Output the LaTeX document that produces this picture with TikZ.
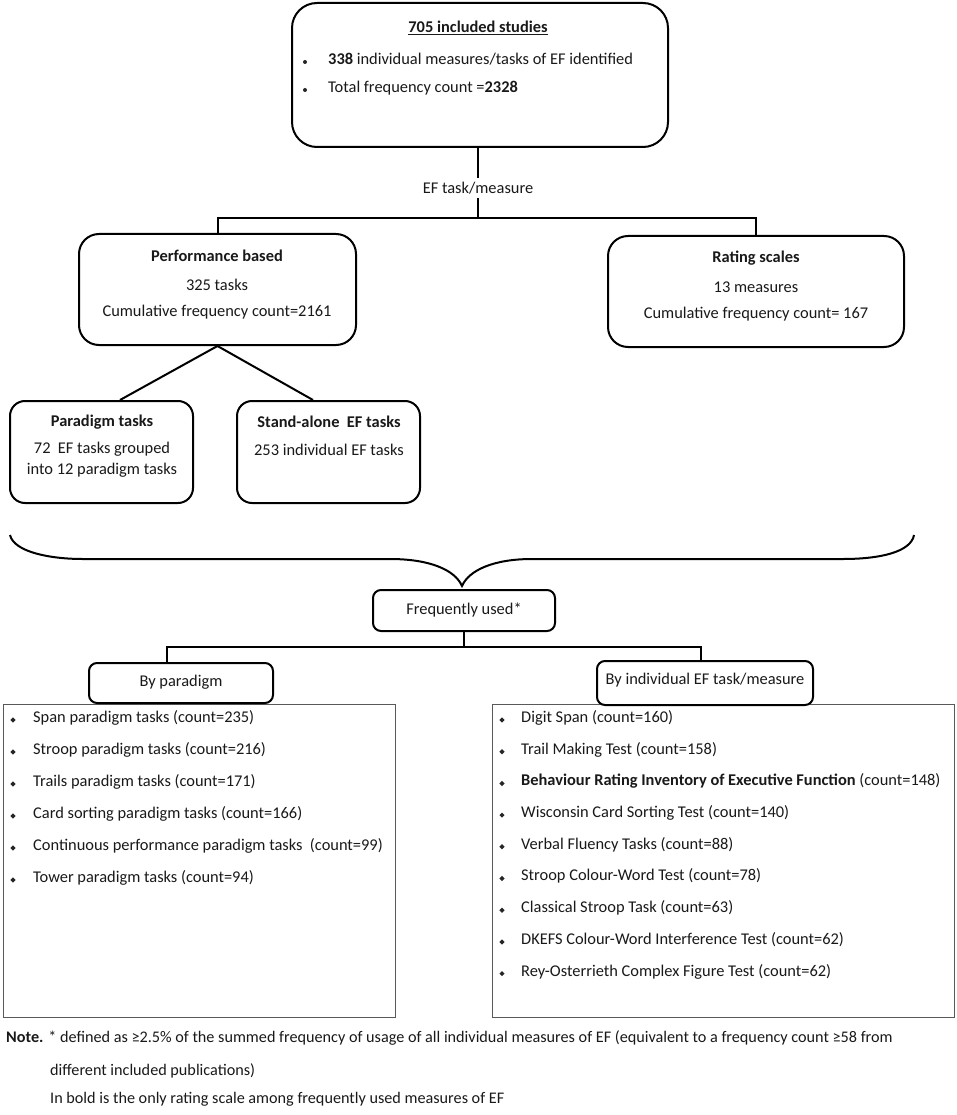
\documentclass[tikz,border=0pt]{standalone}
\usepackage{fontspec}
\setmainfont{Carlito}
\usetikzlibrary{calc}
\begin{document}
\begin{tikzpicture}[x=1pt,y=-1pt,
  rbox/.style={draw=black, line width=2pt, fill=white, inner sep=0pt, rounded corners=#1},
  rbox/.default=18pt,
  lbox/.style={draw=black!65, line width=1pt, inner sep=0pt},
  txt/.style={font=\fontsize{16.4}{19}\selectfont, text=black!90, inner sep=0pt},
  btxt/.style={txt, font=\fontsize{16.4}{19}\selectfont\bfseries},
  ntxt/.style={font=\fontsize{16.2}{19}\selectfont, text=black!90, inner sep=0pt, anchor=mid west},
  conn/.style={draw=black, line width=2pt},
  dia/.style={fill=black!85},
]
\useasboundingbox (0,0) rectangle (957,1115);

% ---------- top box ----------
\node[rbox=25pt, minimum width=376pt, minimum height=144pt] (top) at (480,75) {};
\node[btxt] (toptitle) at (478,28) {\underline{705 included studies}};
\fill[black!85] (305,62) circle (2);
\node[txt, anchor=mid west] (topl1) at (328,62) {\textbf{338} individual measures/tasks of EF identified};
\fill[black!85] (305,90) circle (2);
\node[txt, anchor=mid west] (topl2) at (328,90) {Total frequency count =\textbf{2328}};

\node[txt, inner sep=4pt] (ef) at (478,188) {EF task/measure};
\coordinate (j1) at (478,218);

% ---------- second level ----------
\node[rbox=20pt, minimum width=277pt, minimum height=111pt] (perf) at (217.5,289.5) {};
\node[btxt] (perft) at (217,256) {Performance based};
\node[txt] (perf1) at (217,285) {325 tasks};
\node[txt] (perf2) at (217,312) {Cumulative frequency count=2161};

\node[rbox=20pt, minimum width=296pt, minimum height=111pt] (rate) at (756,291.5) {};
\node[btxt] (ratet) at (756,258) {Rating scales};
\node[txt] (rate1) at (756,287) {13 measures};
\node[txt] (rate2) at (756,314) {Cumulative frequency count= 167};

\draw[conn] (ef.north |- top.south) -- (ef.north);
\draw[conn] (ef.south) -- (j1);
\draw[conn] (perf.north) |- (j1) -| (rate.north);

% ---------- third level ----------
\node[rbox=15pt, minimum width=183pt, minimum height=102pt] (para) at (101.5,452) {};
\node[btxt] (parat) at (102,422) {Paradigm tasks};
\node[txt] (para1) at (102,449) {72~ EF tasks grouped};
\node[txt] (para2) at (102,470) {into 12 paradigm tasks};

\node[rbox=15pt, minimum width=183pt, minimum height=102pt] (stand) at (328.5,452) {};
\node[btxt] (standt) at (329,422) {Stand-alone~ EF tasks};
\node[txt] (stand1) at (329,450) {253 individual EF tasks};

\draw[conn] (perf.south) -- ($(para.north)+(18.5,0)$);
\draw[conn] (perf.south) -- ($(stand.north)+(-15.5,0)$);

% ---------- brace ----------
\coordinate (btip) at (462,586);
\draw[line width=2pt] (10,535) .. controls (14,552) and (50,559) .. (83,559) -- (390,559)
  .. controls (430,559) and (455,570) .. (btip)
  .. controls (469,570) and (494,559) .. (532,559) -- (843,559)
  .. controls (880,559) and (911,552) .. (914,535);

% ---------- frequently used ----------
\node[rbox=8pt, minimum width=182pt, minimum height=41pt] (freq) at (464,610.5) {};
\node[txt] (freqt) at (464,610) {Frequently used*};
\coordinate (j2) at (464,647);

% ---------- list boxes ----------
\node[lbox, minimum width=392pt, minimum height=313pt] (llist) at (199,860.5) {};
\node[lbox, minimum width=462pt, minimum height=313pt] (rlist) at (723,860.5) {};

\node[rbox=8pt, minimum width=184pt, minimum height=40pt] (bypar) at (181,683) {};
\node[txt] (bypart) at (181,682) {By paradigm};
\node[rbox=8pt, minimum width=216pt, minimum height=44pt] (byind) at (705,683) {};
\node[txt] (byindt) at (705,680) {By individual EF task/measure};

\draw[conn] (freq.south) -- (j2);
\draw[conn] (j2) -| ($(bypar.north)+(-14,0)$);
\draw[conn] (j2) -| ($(byind.north)+(-4,0)$);

% left list
\foreach \t [count=\i from 0] in {
  Span paradigm tasks (count=235),
  Stroop paradigm tasks (count=216),
  Trails paradigm tasks (count=171),
  Card sorting paradigm tasks (count=166),
  Continuous performance paradigm tasks~ (count=99),
  Tower paradigm tasks (count=94)}{
  \fill[dia] (13,720+32*\i) ++(-2.6,0) -- ++(2.6,-2.6) -- ++(2.6,2.6) -- ++(-2.6,2.6) -- cycle;
  \node[txt, anchor=mid west] (l\i) at (33,720+32*\i) {\t};
}

% right list
\foreach \t [count=\i from 0] in {
  Digit Span (count=160),
  Trail Making Test (count=158),
  \textbf{Behaviour Rating Inventory of Executive Function} (count=148),
  Wisconsin Card Sorting Test (count=140),
  Verbal Fluency Tasks (count=88),
  Stroop Colour-Word Test (count=78),
  Classical Stroop Task (count=63),
  DKEFS Colour-Word Interference Test (count=62),
  Rey-Osterrieth Complex Figure Test (count=62)}{
  \fill[dia] (502,720+31.7*\i) ++(-2.6,0) -- ++(2.6,-2.6) -- ++(2.6,2.6) -- ++(-2.6,2.6) -- cycle;
  \node[txt, anchor=mid west] (r\i) at (521,720+31.7*\i) {\t};
}

% ---------- note ----------
\node[ntxt] (note1) at (6,1040) {\textbf{Note.} * defined as ≥2.5\% of the summed frequency of usage of all individual measures of EF (equivalent to a frequency count ≥58 from};
\node[ntxt] (note2) at (50,1073) {different included publications)};
\node[ntxt] (note3) at (50,1101) {In bold is the only rating scale among frequently used measures of EF};
\end{tikzpicture}
\end{document}
